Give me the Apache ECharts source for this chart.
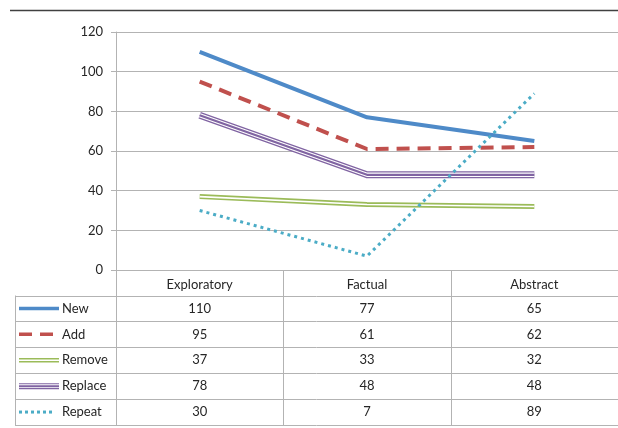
<!DOCTYPE html>
<html><head><meta charset="utf-8">
<script src="https://cdn.jsdelivr.net/npm/echarts@6/dist/echarts.min.js"></script>
<style>html,body{margin:0;padding:0;background:#fff}#c{width:618px;height:428px}</style>
</head><body><div id="c"></div>
<script>
const categories = ['Exploratory', 'Factual', 'Abstract'];
const seriesNames = ['New', 'Add', 'Remove', 'Replace', 'Repeat'];
const newVals = [110, 77, 65];
const addVals = [95, 61, 62];
const removeVals = [37, 33, 32];
const replaceVals = [78, 48, 48];
const repeatVals = [30, 7, 89];
const yMin = 0, yMax = 120, yStep = 20;

const C = {blue:'#4E8AC8', red:'#C0504D', green:'#9BBB59', purple:'#8064A2', cyan:'#4BACC6', grid:'#B3B3B3', text:'#262626'};
const FONT = 'Lato, "Open Sans", sans-serif';

const chart = echarts.init(document.getElementById('c'), null, {renderer:'canvas'});
function ls(name, data, color, width, type, z) {
  return {name, type:'line', data, symbol:'none', silent:true, z:z,
    lineStyle:{color, width, type:type||'solid', cap:'butt', join:'round'}};
}
const valsByName = {New:newVals, Add:addVals, Remove:removeVals, Replace:replaceVals, Repeat:repeatVals};
chart.setOption({
  animation:false,
  grid:{left:116, top:32, width:508, bottom:158, containLabel:false},
  xAxis:{type:'category', data:categories, boundaryGap:true,
    axisLine:{show:true, lineStyle:{color:C.grid, width:1}}, axisTick:{show:false},
    axisLabel:{margin:8, color:C.text, fontFamily:FONT, fontSize:13}},
  yAxis:{type:'value', min:yMin, max:yMax, interval:yStep,
    axisLine:{show:true, lineStyle:{color:C.grid}},
    axisTick:{show:true, length:5, lineStyle:{color:C.grid}},
    axisLabel:{margin:13, color:C.text, fontFamily:FONT, fontSize:13},
    splitLine:{lineStyle:{color:C.grid, width:1}}},
  series:[
    ls('Remove', removeVals, C.green, 5, 'solid', 2),
    ls('Remove-gap', removeVals, '#ffffff', 1.6, 'solid', 3),
    ls('Replace', replaceVals, C.purple, 7, 'solid', 4),
    ls('Replace-gap', replaceVals, '#ffffff', 4.4, 'solid', 5),
    ls('Replace-core', replaceVals, C.purple, 2.2, 'solid', 6),
    ls('Add', addVals, C.red, 4, [13, 8], 7),
    ls('New', newVals, C.blue, 4, 'solid', 8),
    ls('Repeat', repeatVals, C.cyan, 3, [3, 4], 9)
  ]
});

// data table below the plot
const g = [];
const axisY = chart.convertToPixel({yAxisIndex:0}, 0);
const centers = categories.map((c, i) => chart.convertToPixel({xAxisIndex:0}, i));
const band = centers[1] - centers[0];
const seps = [centers[0] - band/2, centers[0] + band/2, centers[1] + band/2, centers[2] + band/2];
const tableLeft = 15, headerBottom = 295.5, rowH = 25.9;
const bottom = headerBottom + rowH * seriesNames.length;
function L(x1,y1,x2,y2,stroke,w,dash){return {type:'line', silent:true, shape:{x1,y1,x2,y2}, style:{stroke, lineWidth:w||1, lineDash:dash||null, lineCap:'butt'}, z:20};}
function T(text,x,y,align){return {type:'text', silent:true, x, y, style:{text, align:align||'center', verticalAlign:'middle', textAlign:align||'center', textVerticalAlign:'middle', font:'13px '+FONT, fill:C.text}, z:21};}
// top rule
g.push(L(10, 10.5, 618, 10.5, '#404040', 1.5));
// horizontal lines
for (let r = 0; r <= seriesNames.length; r++) {
  const y = Math.round(headerBottom + r*rowH) + 0.5;
  g.push(L(tableLeft, y, 618, y, C.grid, 1));
}
// vertical lines
g.push(L(tableLeft + 0.5, headerBottom, tableLeft + 0.5, bottom, C.grid, 1));
seps.slice(0,3).forEach(x => g.push(L(Math.round(x)+0.5, axisY, Math.round(x)+0.5, bottom, C.grid, 1)));
// rows
seriesNames.forEach((name, r) => {
  const yc = headerBottom + r*rowH + rowH/2;
  const x1 = 19, x2 = 59;
  if (name === 'New') g.push(L(x1, yc, x2, yc, C.blue, 3.5));
  if (name === 'Add') g.push(L(x1, yc, x2, yc, C.red, 3.5, [13, 8]));
  if (name === 'Remove') { g.push(L(x1, yc, x2, yc, C.green, 4.5)); g.push(L(x1, yc, x2, yc, '#ffffff', 1.4)); }
  if (name === 'Replace') { g.push(L(x1, yc, x2, yc, C.purple, 6)); g.push(L(x1, yc, x2, yc, '#ffffff', 3.8)); g.push(L(x1, yc, x2, yc, C.purple, 2)); }
  if (name === 'Repeat') g.push(L(x1, yc, x2 - 4, yc, C.cyan, 3, [3, 3]));
  g.push(T(name, 62, yc, 'left'));
  valsByName[name].forEach((v, i) => g.push(T(String(v), centers[i], yc)));
});
chart.setOption({graphic:{elements:g}});
</script></body></html>
